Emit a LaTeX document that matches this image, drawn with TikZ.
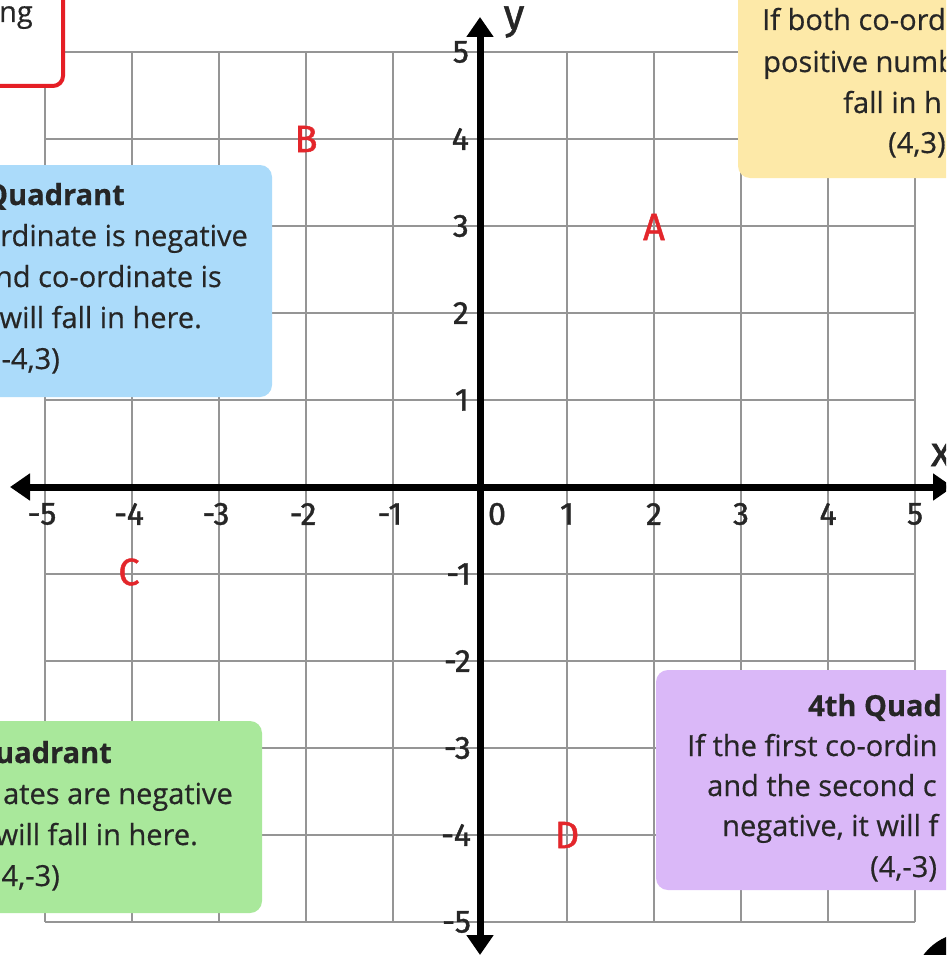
\documentclass[tikz,border=0pt]{standalone}
\usepackage{fontspec}
\setmainfont{Open Sans}[FakeBold=0.5]
\newfontfamily\numfont{Fira Sans}[FakeBold=1.2]
\usetikzlibrary{arrows.meta}
\definecolor{ptred}{HTML}{E3262B}
\definecolor{boxred}{HTML}{E51E25}
\definecolor{qyellow}{HTML}{FDE9A8}
\definecolor{qblue}{HTML}{ABDBFA}
\definecolor{qgreen}{HTML}{A9E89B}
\definecolor{qpurple}{HTML}{DAB8F8}
\definecolor{txt}{HTML}{262626}
\definecolor{gridgray}{HTML}{959595}
\tikzset{
  gridline/.style={draw=gridgray, line width=1.5pt},
  axisline/.style={line width=7pt, {Triangle[length=20pt,width=26pt]}-{Triangle[length=20pt,width=26pt]}},
  qbox/.style={rounded corners=12pt},
  boxtext/.style={font=\fontsize{29}{34}\selectfont, text=txt, inner sep=0pt},
  boxtitle/.style={font=\fontsize{29}{34}\selectfont\bfseries, text=txt, inner sep=0pt},
  ticklab/.style={font=\numfont\fontsize{32}{34}\selectfont, text=txt, inner sep=0pt},
  pointlab/.style={font=\numfont\fontsize{38}{40}\selectfont, text=ptred, inner sep=0pt},
  axisname/.style={font=\numfont\fontsize{42}{44}\selectfont, text=txt, inner sep=0pt},
}
\begin{document}
\begin{tikzpicture}[x=1pt,y=-1pt]
\useasboundingbox (0,0) rectangle (946,955);
\clip (0,0) rectangle (946,955);
\fill[white] (0,0) rectangle (946,955);
% grid
\foreach \k in {-5,...,5}{
  \draw[gridline] ({480+87*\k},52) -- ({480+87*\k},922);
  \draw[gridline] (45,{487-87*\k}) -- (915,{487-87*\k});
}
% title box (top left)
\draw[draw=boxred, line width=4pt, fill=white, rounded corners=10pt] (-40,-40) rectangle (63,86);
\node[boxtext, anchor=base east] (tt) at (33,22) {ng};
% quadrant boxes
\fill[qyellow, qbox] (738,-40) rectangle (990,178);
\fill[qblue, qbox] (-40,165) rectangle (272,397);
\fill[qgreen, qbox] (-40,721) rectangle (262,913);
\fill[qpurple, qbox] (656,670) rectangle (990,890);
% yellow text
\node[boxtext, anchor=base west] (y1) at (762,30) {If both co-ord};
\node[boxtext, anchor=base west] (y2) at (763,72) {positive numb};
\node[boxtext, anchor=base west] (y3) at (843,113) {fall in h};
\node[boxtext, anchor=base west] (y4) at (888,153) {(4,3)};
% blue text
\node[boxtitle, anchor=base east] (b1) at (125,205) {Quadrant};
\node[boxtext, anchor=base east] (b2) at (248,246) {rdinate is negative};
\node[boxtext, anchor=base east] (b3) at (222,287) {nd co-ordinate is};
\node[boxtext, anchor=base east] (b4) at (202,328) {will fall in here.};
\node[boxtext, anchor=base east] (b5) at (60,369) {-4,3)};
% green text
\node[boxtitle, anchor=base east] (g1) at (112,763) {uadrant};
\node[boxtext, anchor=base east] (g2) at (233,804) {ates are negative};
\node[boxtext, anchor=base east] (g3) at (198,845) {will fall in here.};
\node[boxtext, anchor=base east] (g4) at (60,886) {4,-3)};
% purple text
\node[boxtitle, anchor=base west] (p1) at (808,716) {4th Quad};
\node[boxtext, anchor=base west] (p2) at (687,756) {If the first co-ordin};
\node[boxtext, anchor=base west] (p3) at (707,796) {and the second c};
\node[boxtext, anchor=base west] (p4) at (722,836) {negative, it will f};
\node[boxtext, anchor=base west] (p5) at (870,877) {(4,-3)};
% axes
\coordinate (xl) at (10,487);
\coordinate (xr) at (953,487);
\coordinate (yt) at (480,17);
\coordinate (yb) at (480,955);
\draw[axisline] (xl) -- (xr);
\draw[axisline] (yb) -- (yt);
\node[axisname] (ylab) at (514,22) {y};
\node[axisname] (xlab) at (941,455) {x};
% tick labels
\foreach \k in {-5,...,-1}{
  \node[ticklab] (xt\k) at ({477+87*\k},514) {-\the\numexpr-\k\relax};
}
\foreach \k in {1,...,5}{
  \node[ticklab] (xt\k) at ({480+87*\k},514) {\k};
}
\node[ticklab] (x0) at (497,514) {0};
\foreach \k in {1,...,5}{
  \node[ticklab, anchor=east] (yt\k) at (469,{487-87*\k}) {\k};
}
\foreach \k in {1,...,5}{
  \node[ticklab, anchor=east] (ytm\k) at (471,{487+87*\k}) {-\k};
}
% points
\node[pointlab] (A) at (654,227) {A};
\node[pointlab] (B) at (306,139) {B};
\node[pointlab] (C) at (129,572) {C};
\node[pointlab] (D) at (567,835) {D};
% corner blob
\fill[black] (968,988) circle (55.5);
\end{tikzpicture}
\end{document}
